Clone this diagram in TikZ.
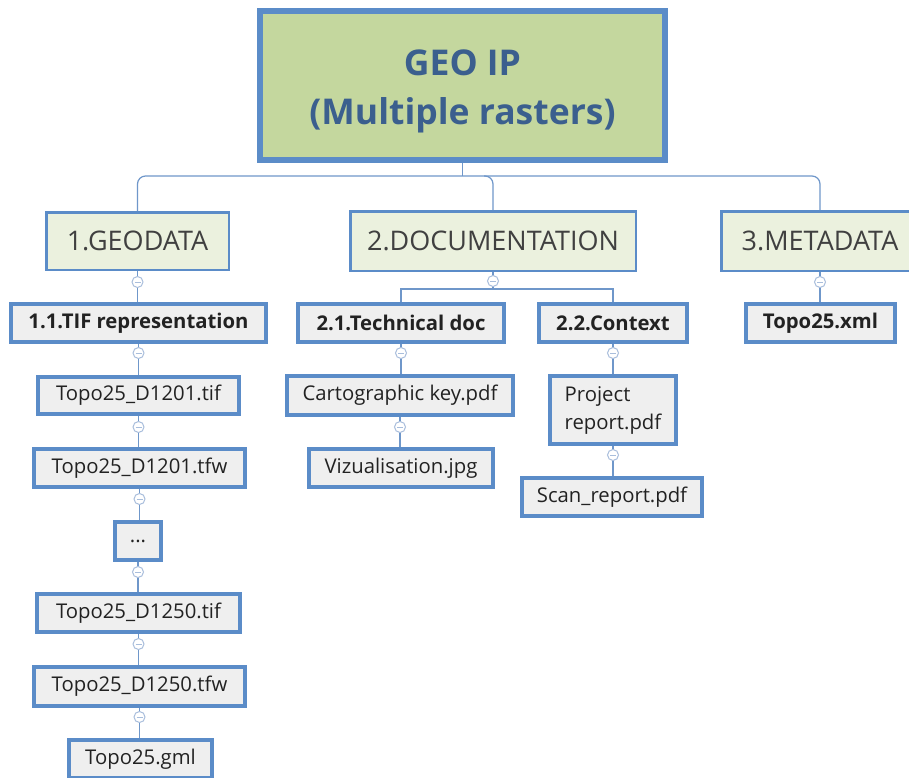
\documentclass[tikz,border=0pt]{standalone}
\usepackage{fontspec}
\setmainfont{Open Sans}
\usetikzlibrary{calc}
\definecolor{bblue}{HTML}{5B8CC8}
\definecolor{lblue}{HTML}{6F97CA}
\definecolor{cblue}{HTML}{A9BEDC}
\definecolor{rootfill}{HTML}{C4D79E}
\definecolor{l1fill}{HTML}{EBF1DE}
\definecolor{leaffill}{HTML}{EFEFEF}
\definecolor{roottext}{HTML}{3B5F8E}
\definecolor{l1text}{HTML}{404040}
\definecolor{leaftext}{HTML}{222222}
\tikzset{
  rootbox/.style={draw=bblue, line width=6pt, fill=rootfill, text=roottext, font=\bfseries\fontsize{35.5}{49}\selectfont, align=center, inner sep=0pt},
  lonebox/.style={draw=bblue, line width=2.5pt, fill=l1fill, text=l1text, font=\fontsize{27}{32}\selectfont, inner sep=0pt},
  leafbox/.style={draw=bblue, line width=4pt, fill=leaffill, text=leaftext, font=\fontsize{20.3}{28}\selectfont, inner sep=0pt},
  boldleaf/.style={leafbox, font=\bfseries\fontsize{20.3}{28}\selectfont},
  conn/.style={draw=lblue, line width=1.2pt},
  collapse/.style={circle, draw=cblue, line width=1pt, fill=white, minimum size=11pt, inner sep=0pt,
    path picture={\draw[cblue, line width=1pt] ([xshift=-3pt]path picture bounding box.center) -- ([xshift=3pt]path picture bounding box.center);}}
}
\begin{document}
\begin{tikzpicture}[x=1pt,y=-1pt]
\useasboundingbox (0,0) rectangle (909,777);
\clip (0,0) rectangle (909,777);
\fill[white] (0,0) rectangle (909,777);
% nodes
\node[rootbox, minimum width=405pt, minimum height=149pt] (root) at (462.5,85.5) {\raisebox{-5pt}[\height][\depth]{\begin{tabular}{@{}c@{}}GEO IP\\(Multiple rasters)\end{tabular}}};
\node[lonebox, minimum width=182.5pt, minimum height=57.5pt] (geo) at (137.5,241) {1.GEODATA};
\node[lonebox, minimum width=285.5pt, minimum height=59.5pt] (doc) at (493,241) {2.DOCUMENTATION};
\node[lonebox, minimum width=197.5pt, minimum height=59.5pt] (meta) at (820,241) {3.METADATA};
\node[boldleaf, minimum width=255pt, minimum height=38pt] (tif) at (138.5,323) {1.1.TIF representation};
\node[leafbox, minimum width=201pt, minimum height=37pt] (d1) at (138.5,395.5) {Topo25\_D1201.tif};
\node[leafbox, minimum width=211pt, minimum height=38pt] (d2) at (139.5,468) {Topo25\_D1201.tfw};
\node[leafbox, minimum width=46pt, minimum height=38pt] (dots) at (138,541) {...};
\node[leafbox, minimum width=203pt, minimum height=38pt] (d3) at (138.5,613) {Topo25\_D1250.tif};
\node[leafbox, minimum width=211pt, minimum height=39pt] (d4) at (139.5,686.5) {Topo25\_D1250.tfw};
\node[leafbox, minimum width=143pt, minimum height=38pt] (gml) at (140.5,759) {Topo25.gml};
\node[boldleaf, minimum width=206pt, minimum height=38pt] (tech) at (401,323) {2.1.Technical doc};
\node[boldleaf, minimum width=148pt, minimum height=38pt] (ctx) at (613,323) {2.2.Context};
\node[leafbox, minimum width=226pt, minimum height=39pt] (cart) at (400,395.5) {Cartographic key.pdf};
\node[leafbox, minimum width=184pt, minimum height=38pt] (viz) at (401,468) {Vizualisation.jpg};
\node[leafbox, minimum width=126pt, minimum height=68pt, align=left] (proj) at (613,410) {Project\\report.pdf};
\node[leafbox, minimum width=180pt, minimum height=38pt] (scan) at (612,497) {Scan\_report.pdf};
\node[boldleaf, minimum width=149pt, minimum height=38pt] (xml) at (820.5,323) {Topo25.xml};
% junctions
\coordinate (rj) at ($(root.south)+(0,13)$);
\coordinate (dj) at (484,176);
\coordinate (docj) at ($(doc.south)+(0,17)$);
% connectors
\draw[conn] (root.south) -- (rj);
\draw[conn, rounded corners=8pt] (geo.north) |- (rj) -| (meta.north);
\draw[conn, rounded corners=8pt] (dj) -| (doc.north);
\draw[conn] (geo.south) -- (geo.south |- tif.north);
\draw[conn] (tif.south) -- (tif.south |- d1.north);
\draw[conn] (d1.south) -- (d1.south |- d2.north);
\draw[conn] (d2.south) -- (d2.south |- dots.north);
\draw[conn] (dots.south) -- (dots.south |- d3.north);
\draw[conn] (d3.south) -- (d3.south |- d4.north);
\draw[conn] (d4.south) -- (d4.south |- gml.north);
\draw[conn] (doc.south) -- (docj);
\draw[conn] (tech.north) |- (docj) -| (ctx.north);
\draw[conn] (tech.south) -- (tech.south |- cart.north);
\draw[conn] (cart.south) -- (cart.south |- viz.north);
\draw[conn] (ctx.south) -- (ctx.south |- proj.north);
\draw[conn] (proj.south) -- (proj.south |- scan.north);
\draw[conn] (meta.south) -- (meta.south |- xml.north);
% collapse markers
\node[collapse] (c1) at ($(geo.south)+(0,11)$) {};
\node[collapse] (c2) at ($(tif.south)+(0,9)$) {};
\node[collapse] (c3) at ($(d1.south)+(0,11)$) {};
\node[collapse] (c4) at ($(d2.south)+(0,10)$) {};
\node[collapse] (c5) at ($(dots.south)+(0,10)$) {};
\node[collapse] (c6) at ($(d3.south)+(0,10)$) {};
\node[collapse] (c7) at ($(d4.south)+(0,9)$) {};
\node[collapse] (c8) at ($(doc.south)+(0,9)$) {};
\node[collapse] (c9) at ($(tech.south)+(0,9)$) {};
\node[collapse] (c10) at ($(cart.south)+(0,10)$) {};
\node[collapse] (c11) at ($(ctx.south)+(0,9)$) {};
\node[collapse] (c12) at ($(proj.south)+(0,9)$) {};
\node[collapse] (c13) at ($(meta.south)+(0,10)$) {};
\end{tikzpicture}
\end{document}
